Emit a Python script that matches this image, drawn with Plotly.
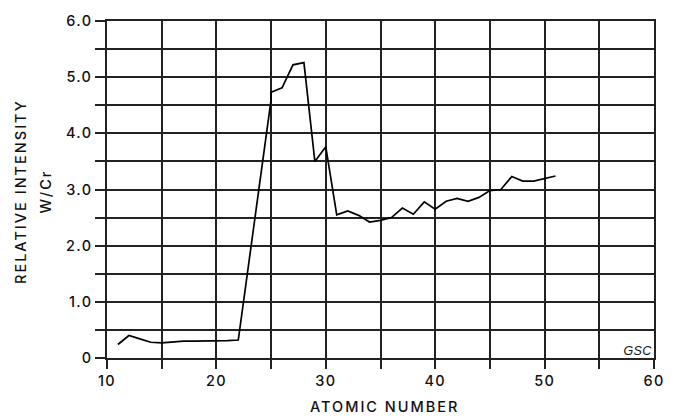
import plotly.graph_objects as go

atomic_number = [11, 12, 13, 14, 15, 16, 17, 18, 19, 20, 21, 22, 25, 25, 26, 27, 28, 29, 30,
                 31, 32, 33, 34, 35, 36, 37, 38, 39, 40, 41, 42, 43, 44, 45, 46, 47, 48, 49, 50, 51]
intensity = [0.24, 0.40, 0.34, 0.28, 0.27, 0.29, 0.30, 0.30, 0.30, 0.30, 0.31, 0.32, 4.60, 4.73,
             4.81, 5.22, 5.26, 3.50, 3.76, 2.55, 2.62, 2.54, 2.42, 2.45, 2.50, 2.67, 2.56, 2.78,
             2.65, 2.79, 2.84, 2.79, 2.86, 2.98, 3.00, 3.23, 3.15, 3.15, 3.20, 3.24]

x_ticks = [10, 20, 30, 40, 50, 60]
y_ticks = [0, 1, 2, 3, 4, 5, 6]
y_tick_labels = ["0", "1.0", "2.0", "3.0", "4.0", "5.0", "6.0"]

FONT = "Inter"
INK = "#111111"
GRID = "#222222"

fig = go.Figure()
fig.add_trace(go.Scatter(x=atomic_number, y=intensity, mode="lines",
                         line=dict(color="#000000", width=1.7), showlegend=False,
                         hoverinfo="skip"))

axis_common = dict(showline=True, linecolor=GRID, linewidth=1.6, mirror=True,
                   showgrid=True, gridcolor=GRID, gridwidth=1.5, zeroline=False,
                   ticks="outside", tickcolor=GRID, tickwidth=1.5,
                   tickfont=dict(family=FONT, size=14.5, color=INK, weight=500))

fig.update_layout(
    width=675, height=418,
    margin=dict(l=107, r=13, t=16, b=60),
    paper_bgcolor="white", plot_bgcolor="white",
    xaxis=dict(range=[10, 60], tickvals=x_ticks, ticklen=9,
               minor=dict(dtick=5, showgrid=True, gridcolor=GRID, gridwidth=1.5,
                          ticks="outside", ticklen=9, tickcolor=GRID, tickwidth=1.5),
               **axis_common),
    yaxis=dict(range=[0, 6], tickvals=y_ticks, ticktext=y_tick_labels, ticklen=10,
               minor=dict(dtick=0.5, showgrid=True, gridcolor=GRID, gridwidth=1.5,
                          ticks="outside", ticklen=10, tickcolor=GRID, tickwidth=1.5),
               **axis_common),
)

title_font = dict(family=FONT, size=14.5, color=INK, weight=500)
fig.add_annotation(text="RELATIVE INTENSITY", xref="paper", yref="paper",
                   x=-0.157, y=0.493, textangle=-90, showarrow=False,
                   xanchor="center", yanchor="middle", font=title_font)
fig.add_annotation(text="W/Cr", xref="paper", yref="paper",
                   x=-0.112, y=0.493, textangle=-90, showarrow=False,
                   xanchor="center", yanchor="middle", font=title_font)
fig.add_annotation(text="ATOMIC NUMBER", xref="paper", yref="paper",
                   x=0.507, y=-0.144, showarrow=False,
                   xanchor="center", yanchor="middle", font=title_font)
fig.add_annotation(text="<i>GSC</i>", xref="x", yref="y",
                   x=59.6, y=0.12, showarrow=False, xshift=4,
                   xanchor="right", yanchor="middle",
                   font=dict(family="Liberation Sans", size=12.5, color=INK))

letter_spacing_css = (
    "var s=document.createElement('style');"
    "s.textContent='.annotation-text{letter-spacing:2.0px}"
    " .annotation[data-index=\"3\"] .annotation-text{letter-spacing:0.4px}"
    " .xtick text,.ytick text{letter-spacing:1.3px}';"
    "document.head.appendChild(s);"
)

fig.write_html("out.html", post_script=letter_spacing_css)
